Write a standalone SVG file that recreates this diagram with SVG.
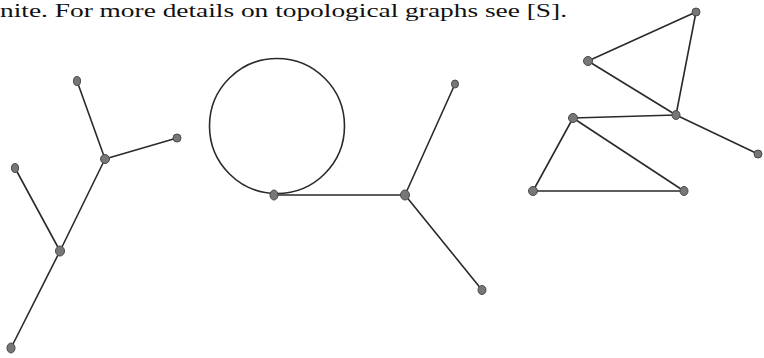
<svg xmlns="http://www.w3.org/2000/svg" width="764" height="358" viewBox="0 0 764 358">
<style>
.e{stroke:#2a2a2a;stroke-width:1.6;fill:none;stroke-linecap:round}
.n{fill:#777;stroke:#4a4a4a;stroke-width:1}
.t{font-family:"Liberation Serif","DejaVu Serif",serif;font-size:19px;fill:#111}
</style>
<rect width="764" height="358" fill="#fff"/>
<text class="t" x="0" y="17" textLength="567" lengthAdjust="spacingAndGlyphs">nite. For more details on topological graphs see [S].</text>
<g id="connectors">
<line class="e" x1="77" y1="81" x2="105" y2="159"/>
<line class="e" x1="177" y1="138" x2="105" y2="159"/>
<line class="e" x1="105" y1="159" x2="60" y2="251"/>
<line class="e" x1="15" y1="168" x2="60" y2="251"/>
<line class="e" x1="60" y1="251" x2="11" y2="348"/>
<circle class="e" cx="277" cy="126" r="67.5"/>
<line class="e" x1="274" y1="195" x2="405" y2="195"/>
<line class="e" x1="405" y1="195" x2="455" y2="84"/>
<line class="e" x1="405" y1="195" x2="482" y2="290"/>
<line class="e" x1="696" y1="12" x2="588" y2="61"/>
<line class="e" x1="588" y1="61" x2="676" y2="115"/>
<line class="e" x1="696" y1="12" x2="676" y2="115"/>
<line class="e" x1="676" y1="115" x2="758" y2="154"/>
<line class="e" x1="573" y1="118" x2="676" y2="115"/>
<line class="e" x1="573" y1="118" x2="533" y2="191"/>
<line class="e" x1="573" y1="118" x2="684" y2="191"/>
<line class="e" x1="533" y1="191" x2="684" y2="191"/>
</g>
<g id="n1"><ellipse class="n" cx="77" cy="81" rx="3.5" ry="4.5"/></g>
<g id="n2"><ellipse class="n" cx="177" cy="138" rx="4" ry="4"/></g>
<g id="n3"><ellipse class="n" cx="105" cy="159" rx="4.5" ry="4.5"/></g>
<g id="n4"><ellipse class="n" cx="15" cy="168" rx="3.5" ry="4.5"/></g>
<g id="n5"><ellipse class="n" cx="60" cy="251" rx="4.5" ry="5"/></g>
<g id="n6"><ellipse class="n" cx="11" cy="348" rx="4" ry="5"/></g>
<g id="n7"><ellipse class="n" cx="274" cy="195" rx="4" ry="5"/></g>
<g id="n8"><ellipse class="n" cx="405" cy="195" rx="4.5" ry="5"/></g>
<g id="n9"><ellipse class="n" cx="455" cy="84" rx="3.5" ry="4"/></g>
<g id="n10"><ellipse class="n" cx="482" cy="290" rx="4" ry="4.5"/></g>
<g id="n11"><ellipse class="n" cx="696" cy="12" rx="4" ry="4"/></g>
<g id="n12"><ellipse class="n" cx="588" cy="61" rx="4.5" ry="4.5"/></g>
<g id="n13"><ellipse class="n" cx="676" cy="115" rx="4" ry="4.5"/></g>
<g id="n14"><ellipse class="n" cx="758" cy="154" rx="4" ry="4"/></g>
<g id="n15"><ellipse class="n" cx="573" cy="118" rx="4.5" ry="4.5"/></g>
<g id="n16"><ellipse class="n" cx="533" cy="191" rx="4.5" ry="4.5"/></g>
<g id="n17"><ellipse class="n" cx="684" cy="191" rx="4" ry="4.5"/></g>
</svg>
